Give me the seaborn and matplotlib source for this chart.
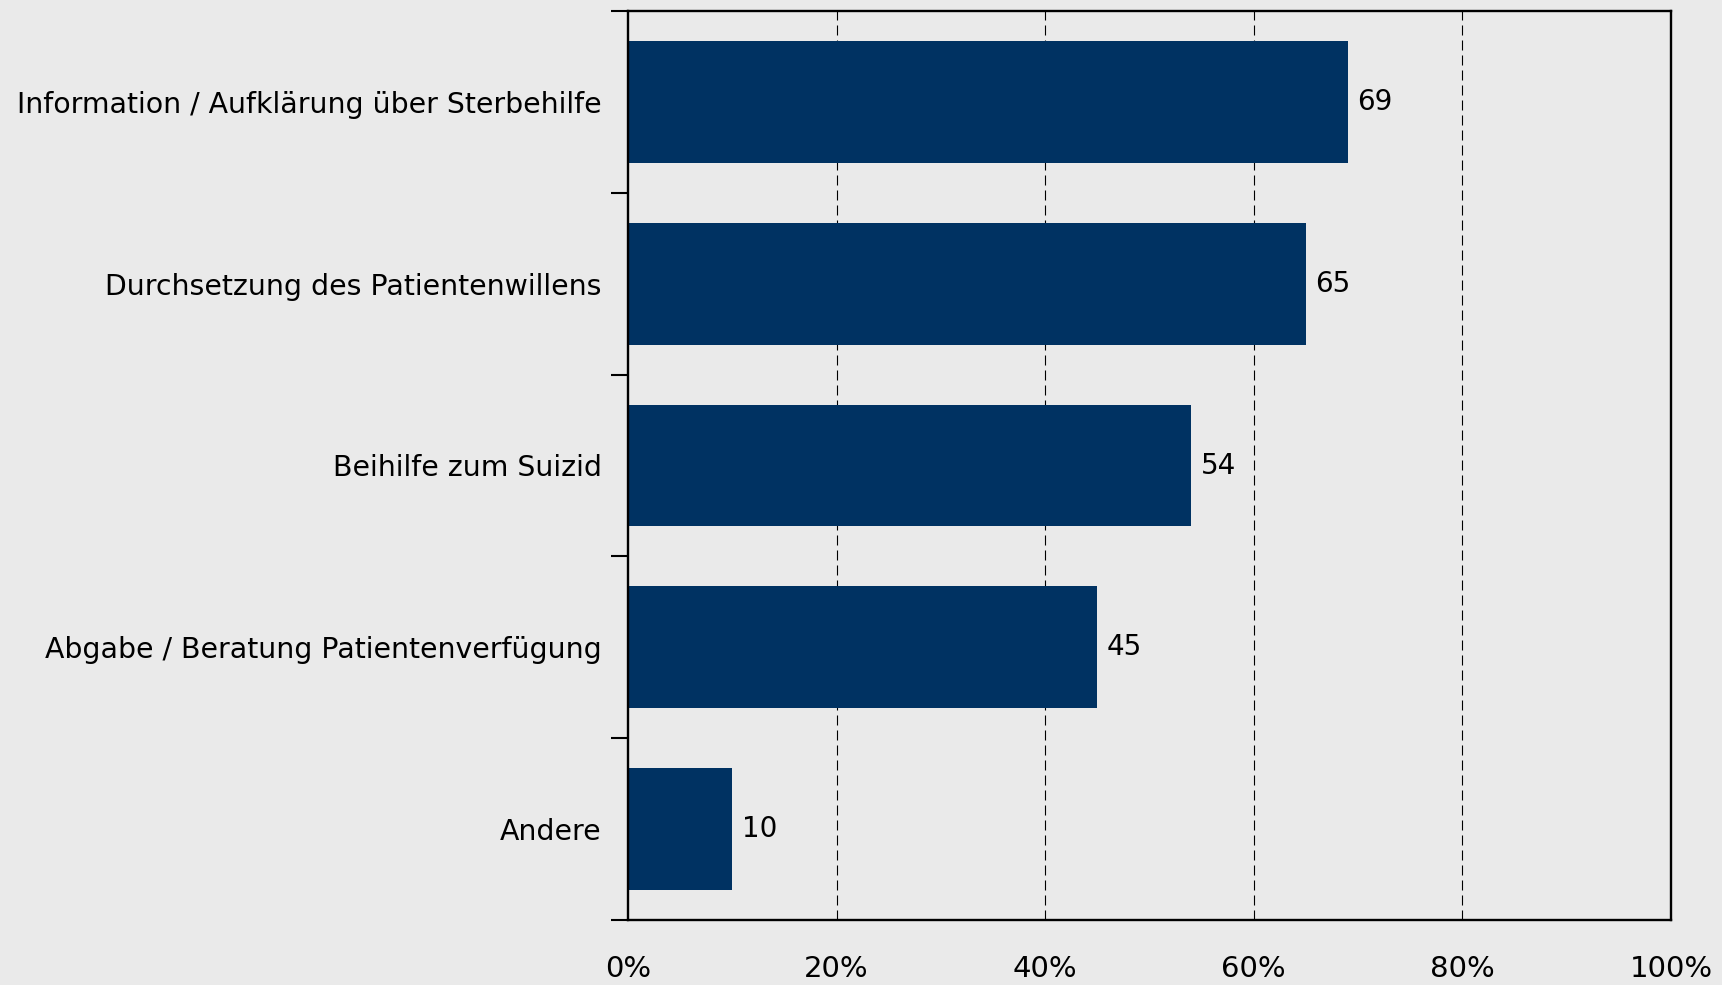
import matplotlib
matplotlib.use("Agg")
import matplotlib.pyplot as plt
import seaborn as sns
import pandas as pd

categories = [
    "Information / Aufklärung über Sterbehilfe",
    "Durchsetzung des Patientenwillens",
    "Beihilfe zum Suizid",
    "Abgabe / Beratung Patientenverfügung",
    "Andere",
]
values = [69, 65, 54, 45, 10]
xtick_values = [0, 20, 40, 60, 80, 100]
xtick_labels = ["0%", "20%", "40%", "60%", "80%", "100%"]

BG = "#EAEAEA"
BAR = "#003262"

sns.set_style("white")
plt.rcParams["font.family"] = ["DejaVu Sans"]

df = pd.DataFrame({"cat": categories, "val": values})

fig = plt.figure(figsize=(17.22, 9.85), dpi=100, facecolor=BG)
ax = fig.add_axes([628 / 1722, 1 - 920 / 985, (1671 - 628) / 1722, (920 - 11) / 985])
ax.set_facecolor(BG)

sns.barplot(data=df, x="val", y="cat", orient="h", color=BAR, saturation=1,
            width=0.67, ax=ax, zorder=3, linewidth=0, edgecolor=BAR)

ax.set_xlim(0, 100)
ax.set_ylim(len(categories) - 0.5, -0.5)

# grid lines
for xv in xtick_values[1:-1]:
    ax.axvline(xv, color="black", lw=0.8, ls=(0, (9, 4.5)), zorder=1)

# spines
for s in ax.spines.values():
    s.set_visible(True)
    s.set_color("black")
    s.set_linewidth(1.7)
    s.set_zorder(4)

# y ticks at boundaries, labels at centers
ax.set_yticks([i - 0.5 for i in range(len(categories) + 1)])
ax.set_yticklabels([])
ax.set_yticks(list(range(len(categories))), minor=True)
ax.set_yticklabels(categories, minor=True, fontsize=20.4, color="black")
ax.tick_params(axis="y", which="major", length=12, width=1.5, color="black", direction="out", left=True)
ax.tick_params(axis="y", which="minor", length=0, pad=19)

ax.set_xticks(xtick_values)
ax.set_xticklabels(xtick_labels, fontsize=21, color="black")
ax.tick_params(axis="x", length=0, pad=25)

ax.set_xlabel("")
ax.set_ylabel("")

for i, v in enumerate(values):
    ax.text(v + 0.9, i, f"{v}", va="center", ha="left", fontsize=20, color="black")

fig.savefig("out.png", dpi=100, facecolor=BG)
